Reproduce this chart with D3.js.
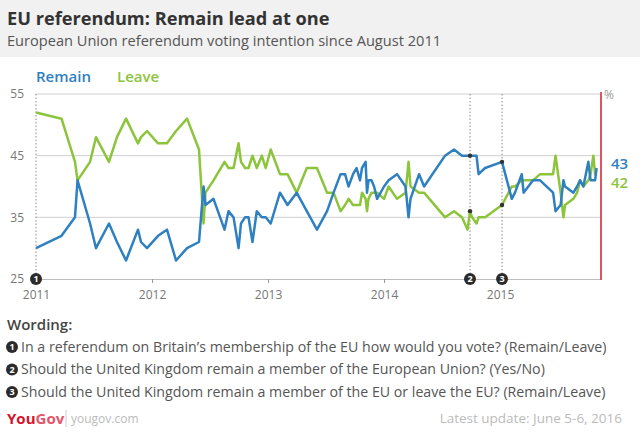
<html>
<head>
<script src="https://cdn.jsdelivr.net/npm/d3@7/dist/d3.min.js"></script>
</head>
<body style='margin: 0;padding: 0;background: #fff'>
<div id="chart"></div>
<script>

// poll dates (decimal years as on the chart's axis) and shares in %
var pollDates = [2011.000, 2011.220, 2011.336, 2011.358, 2011.466, 2011.517, 2011.629, 2011.698, 2011.776, 2011.879,
  2011.905, 2011.957, 2012.052, 2012.129, 2012.207, 2012.302, 2012.405, 2012.444, 2012.461, 2012.530,
  2012.625, 2012.659, 2012.703, 2012.746, 2012.767, 2012.802, 2012.832, 2012.866, 2012.903, 2012.946,
  2012.980, 2013.023, 2013.103, 2013.168, 2013.247, 2013.334, 2013.422, 2013.509, 2013.565, 2013.625,
  2013.664, 2013.694, 2013.733, 2013.763, 2013.793, 2013.810, 2013.841, 2013.853, 2013.866, 2013.892,
  2013.914, 2013.940, 2014.000, 2014.039, 2014.112, 2014.185, 2014.211, 2014.228, 2014.302, 2014.345,
  2014.526, 2014.603, 2014.672, 2014.720, 2014.741, 2014.759, 2014.797, 2014.815, 2014.871, 2015.017,
  2015.101, 2015.129, 2015.187, 2015.203, 2015.284, 2015.345, 2015.457, 2015.478, 2015.522, 2015.546,
  2015.560, 2015.632, 2015.664, 2015.690, 2015.718, 2015.761, 2015.780, 2015.804, 2015.819, 2015.832]

var remainValues = [30, 32, 35, 41, 34, 30, 34, 31, 28, 33,
  31, 30, 32, 33, 28, 30, 31, 40, 37, 38,
  33, 36, 35, 30, 34, 35, 35, 31, 36, 35,
  35, 34, 39, 37, 39, 36, 33, 36, 39, 42,
  42, 40, 42, 43, 41, 43, 44, 39, 41, 41,
  40, 38, 40, 41, 42, 40, 35, 38, 42, 40,
  45, 46, 45, 45, 45, 45, 45, 42, 43, 44,
  38, 39, 42, 39, 41, 41, 39, 36, 37, 41,
  40, 39, 40, 41, 40, 44, 41, 41, 41, 43]

var leaveValues = [52, 51, 44, 41, 44, 48, 44, 48, 51, 47,
  48, 49, 47, 47, 49, 51, 46, 34, 39, 41,
  44, 43, 43, 47, 44, 43, 43, 45, 43, 45,
  43, 46, 42, 42, 39, 43, 43, 39, 39, 36,
  37, 38, 37, 37, 37, 39, 38, 36, 38, 39,
  39, 39, 38, 40, 38, 39, 44, 40, 39, 39,
  35, 36, 35, 33, 36, 35, 34, 35, 35, 37,
  40, 40, 41, 41, 41, 42, 42, 45, 39, 35,
  37, 38, 39, 41, 40, 41, 42, 45, 42, 42]

var yTicks = [25, 35, 45, 55]
var xTicks = [2011, 2012, 2013, 2014, 2015]
var questionChanges = [2011.000, 2014.741, 2015.017]
var wording = ["In a referendum on Britain\u2019s membership of the EU how would you vote? (Remain/Leave)",
  "Should the United Kingdom remain a member of the European Union? (Yes/No)",
  "Should the United Kingdom remain a member of the EU or leave the EU? (Remain/Leave)"]

var remain_colour = '#2f80c0'
var leave_colour = '#8cc43c'
var grid_colour = '#cfcfcf'
var font = "'Open Sans', sans-serif"

var svg = d3.select('#chart').append('svg').attr('width', 640).attr('height', 440)
  .style('font-family', font)

// header band
svg.append('rect').attr('x', 0).attr('y', 0).attr('width', 640).attr('height', 57).style('fill', '#f1f1f1')

svg.append('text').text('EU referendum: Remain lead at one')
  .attr('x', 7).attr('y', 25)
  .style('fill', '#333').attr('font-size', 18.2).attr('font-weight', 700)

svg.append('text').text('European Union referendum voting intention since August 2011')
  .attr('x', 7).attr('y', 46)
  .style('fill', '#555').attr('font-size', 14.6)

// legend
svg.append('text').text('Remain').attr('x', 36).attr('y', 82)
  .style('fill', remain_colour).attr('font-size', 15).attr('font-weight', 600)
svg.append('text').text('Leave').attr('x', 117).attr('y', 82)
  .style('fill', leave_colour).attr('font-size', 15).attr('font-weight', 600)

var x = d3.scaleLinear().domain([2011, 2015.87]).range([36, 601])
var y = d3.scaleLinear().domain([25, 55]).range([279, 94])

// gridlines
svg.selectAll('.grid').data(yTicks.slice(1)).enter().append('line')
  .attr('class', 'grid')
  .attr('x1', x(2011)).attr('x2', x.range()[1])
  .attr('y1', d => y(d)).attr('y2', d => y(d))
  .style('stroke', grid_colour).style('stroke-width', '1px')

svg.selectAll('.ylab').data(yTicks).enter().append('text')
  .attr('class', 'ylab')
  .text(d => d)
  .attr('x', 24).attr('y', d => y(d)).attr('dy', '0.35em')
  .attr('text-anchor', 'end')
  .style('fill', '#777').attr('font-size', 12)

// x axis
var xAxis = svg.append('g').attr('transform', 'translate(0,' + y(25) + ')')
  .call(d3.axisBottom(x).tickValues(xTicks).tickFormat(d3.format('d')).tickSize(4).tickSizeOuter(0))
xAxis.select('.domain').style('stroke', '#bdbdbd')
xAxis.selectAll('.tick line').style('stroke', '#999')
xAxis.selectAll('.tick text').style('fill', '#777').attr('font-size', 12)
  .attr('font-family', font).attr('dy', '1.1em')

// question change markers
svg.selectAll('.qline').data(questionChanges).enter().append('line')
  .attr('class', 'qline')
  .attr('x1', d => x(d)).attr('x2', d => x(d))
  .attr('y1', y(55)).attr('y2', y(25))
  .style('stroke', '#8a8a8a').style('stroke-width', '1px').style('stroke-dasharray', '1.5,2')

// red "today" line
svg.append('line').attr('x1', x.range()[1]).attr('x2', x.range()[1])
  .attr('y1', y(55) - 2).attr('y2', y(25) + 1)
  .style('stroke', '#e05462').style('stroke-width', '2px')
svg.append('text').text('%').attr('x', 604).attr('y', 99)
  .style('fill', '#999').attr('font-size', 12)

var series = [
  {name: 'Remain', values: remainValues, colour: remain_colour},
  {name: 'Leave', values: leaveValues, colour: leave_colour}
]

var line = d3.line().x((d, i) => x(pollDates[i])).y(d => y(d))

// leave drawn first, remain on top
series.slice().reverse().forEach(s => {
  svg.append('path').datum(s.values)
    .attr('d', line)
    .style('fill', 'none')
    .style('stroke', s.colour)
    .style('stroke-width', '2.5px')
    .style('stroke-linejoin', 'round')
})

// dots where the question changed
questionChanges.slice(1).forEach(q => {
  var idx = pollDates.indexOf(q)
  series.forEach(s => {
    svg.append('circle').attr('cx', x(q)).attr('cy', y(s.values[idx])).attr('r', 2.2)
      .style('fill', '#333')
  })
})

// end labels
var last = pollDates.length - 1
svg.append('text').text(remainValues[last]).attr('x', 611).attr('y', 164).attr('dy', '0.35em')
  .style('fill', remain_colour).attr('font-size', 15).attr('font-weight', 600)
svg.append('text').text(leaveValues[last]).attr('x', 611).attr('y', 183).attr('dy', '0.35em')
  .style('fill', leave_colour).attr('font-size', 15).attr('font-weight', 600)

// numbered badges on the axis
function badge(cx, cy, n) {
  svg.append('circle').attr('cx', cx).attr('cy', cy).attr('r', 6).style('fill', '#2b2b2b')
  svg.append('text').text(n).attr('x', cx).attr('y', cy).attr('dy', '0.36em')
    .attr('text-anchor', 'middle').style('fill', '#fff').attr('font-size', 9).attr('font-weight', 700)
}
questionChanges.forEach((q, i) => badge(x(q), y(25), i + 1))

// wording
svg.append('text').text('Wording:').attr('x', 7).attr('y', 330)
  .style('fill', '#444').attr('font-size', 15).attr('font-weight', 600)

wording.forEach((w, i) => {
  var ly = 347 + i * 22.5
  badge(12, ly, i + 1)
  svg.append('text').text(w).attr('x', 21).attr('y', ly).attr('dy', '0.35em')
    .style('fill', '#555').attr('font-size', 14.2)
})

// footer
svg.append('text').attr('x', 7).attr('y', 424).attr('font-size', 15).attr('font-weight', 700)
  .call(t => {
    t.append('tspan').text('You').style('fill', '#d6112a')
    t.append('tspan').text('Gov').style('fill', '#e2566a')
  })
svg.append('line').attr('x1', 66).attr('x2', 66).attr('y1', 410).attr('y2', 427)
  .style('stroke', '#ccc').style('stroke-width', '1px')
svg.append('text').text('yougov.com').attr('x', 71).attr('y', 423)
  .style('fill', '#bbb').attr('font-size', 12)
svg.append('text').text('Latest update: June 5-6, 2016').attr('x', 622).attr('y', 423)
  .attr('text-anchor', 'end')
  .style('fill', '#bbb').attr('font-size', 13.5)

</script>
</body>
</html>
